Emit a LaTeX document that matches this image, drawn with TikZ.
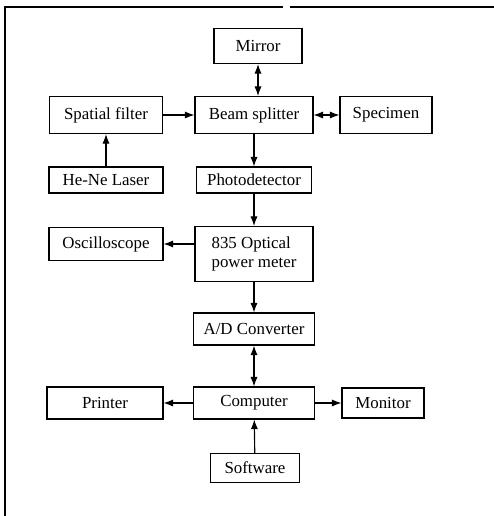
\documentclass[tikz,border=0pt]{standalone}
\usepackage{fontspec}
\setmainfont{Liberation Serif}
\usetikzlibrary{arrows.meta}

\begin{document}
\begin{tikzpicture}[x=0.025cm, y=-0.025cm, line width=0.8pt,
  blk/.style 2 args={draw, inner sep=0pt, minimum width=#1cm, minimum height=#2cm,
    font=\fontsize{12}{13.5}\selectfont},
  >={Latex[length=2.4mm,width=1.8mm]}]
\useasboundingbox (0,0) rectangle (494,516);

%frame
\draw (5,516) -- (5,7) -- (283,7) (290,7) -- (494,7);

%optics
\node[blk={2.2}{0.875}]  (mirror) at (258,46)  {Mirror};
\node[blk={2.825}{0.925}] (filter) at (106,115) {Spatial filter};
\node[blk={2.95}{0.925}] (split)  at (254,115) {Beam splitter};
\node[blk={2.3}{0.925}]  (spec)   at (386,115) {Specimen};
\node[blk={2.85}{0.65}]  (laser)  at (106,180) {He-Ne Laser};
\node[blk={2.875}{0.65}] (detect) at (254,180) {Photodetector};

%measurement
\node[blk={2.85}{0.825}] (scope)  at (106,244) {Oscilloscope};
\node[blk={2.95}{1.375}, align=left] (meter) at (254,254) {835 Optical\\power meter};
\node[blk={3.025}{0.8}]  (adc)    at (254,329) {A/D Converter};

%computer
\node[blk={2.9}{0.8}]    (printer) at (105,403) {Printer};
\node[blk={3.025}{0.8}]  (comp)    at (254,403) {Computer};
\node[blk={2.05}{0.75}]  (monitor) at (383,403) {Monitor};
\node[blk={2.225}{0.725}] (soft)   at (255,468) {Software};

%arrows
\draw[<->] (mirror.south) -- (mirror.south |- split.north);
\draw[->] (filter) -- (split);
\draw[<->] (split) -- (spec);
\draw[->] (laser) -- (filter);
\draw[->] (split) -- (detect);
\draw[->] (detect) -- (meter);
\draw[->] (scope.east -| meter.west) -- (scope.east);
\draw[->] (meter) -- (adc);
\draw[<->] (adc) -- (comp);
\draw[->] (comp) -- (printer);
\draw[->] (comp) -- (monitor);
\draw[->] (soft) -- (comp);
\end{tikzpicture}
\end{document}
